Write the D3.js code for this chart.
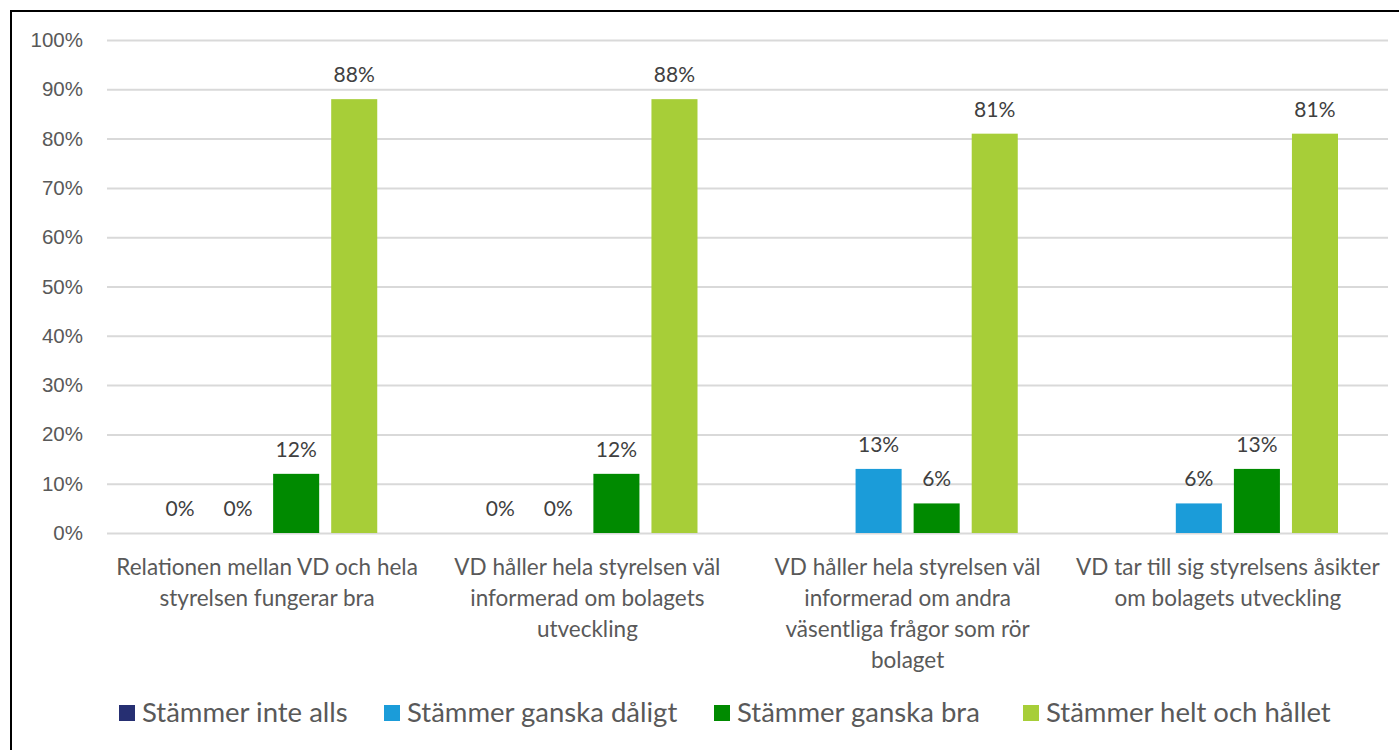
<!DOCTYPE html>
<html>
<head>
<meta charset="utf-8">
<script src="https://cdn.jsdelivr.net/npm/d3@7"></script>
<style>
  body { margin: 0; background: #fff; }
  svg { display: block; font-family: "Source Sans Pro", Lato, "Open Sans", sans-serif; }
</style>
</head>
<body>
<div id="chart"></div>
<script>
// Data.
const categories = [
  ['Relationen mellan VD och hela', 'styrelsen fungerar bra'],
  ['VD håller hela styrelsen väl', 'informerad om bolagets', 'utveckling'],
  ['VD håller hela styrelsen väl', 'informerad om andra', 'väsentliga frågor som rör', 'bolaget'],
  ['VD tar till sig styrelsens åsikter', 'om bolagets utveckling'],
];
const seriesNames = ['Stämmer inte alls', 'Stämmer ganska dåligt', 'Stämmer ganska bra', 'Stämmer helt och hållet'];
const inteAlls = [0, 0, 0, 0];
const ganskaDaligt = [0, 0, 13, 6];
const ganskaBra = [12, 12, 6, 13];
const heltOchHallet = [88, 88, 81, 81];
const yTicks = [0, 10, 20, 30, 40, 50, 60, 70, 80, 90, 100];
const colors = ['#262f72', '#1b9cd9', '#008a00', '#a7ce38'];

const seriesValues = [inteAlls, ganskaDaligt, ganskaBra, heltOchHallet];
// the original only prints one "0%" in the last two groups
const showLabel = [
  [true, true, true, true],
  [true, true, true, true],
  [false, true, true, true],
  [false, true, true, true],
];

const width = 1399, height = 750;
const margin = {top: 40, right: 11, bottom: 217, left: 107};

const svg = d3.select('#chart').append('svg')
  .attr('width', width)
  .attr('height', height);

// Outer frame
svg.append('rect')
  .attr('x', 11).attr('y', 11)
  .attr('width', width + 10).attr('height', height + 10)
  .attr('fill', 'none')
  .attr('stroke', '#000')
  .attr('stroke-width', 2);

const x0 = d3.scaleBand()
  .domain(d3.range(categories.length))
  .range([margin.left, width - margin.right]);

const x1 = d3.scaleBand()
  .domain(d3.range(seriesNames.length))
  .range([44, x0.bandwidth() - 44])
  .paddingInner(12 / 58)
  .paddingOuter(6 / 58);

const y = d3.scaleLinear()
  .domain([0, 100])
  .range([height - margin.bottom, margin.top]);

// Grid + y labels
const yAxis = svg.append('g')
  .attr('transform', `translate(${margin.left},0)`)
  .call(d3.axisLeft(y)
    .tickValues(yTicks)
    .tickSize(-(width - margin.right - margin.left))
    .tickFormat(d => d + '%')
    .tickPadding(24));
yAxis.select('.domain').remove();
yAxis.selectAll('.tick line').attr('stroke', '#d9d9d9').attr('stroke-width', 2);
yAxis.selectAll('.tick text')
  .attr('fill', '#595959')
  .style('font-size', '20.5px')
  .style('font-family', 'inherit');

// Bars
const groups = svg.append('g').selectAll('g')
  .data(categories)
  .join('g')
  .attr('transform', (d, i) => `translate(${x0(i)},0)`);

groups.each(function(cat, ci) {
  const g = d3.select(this);
  seriesValues.forEach((vals, si) => {
    const v = vals[ci];
    if (v > 0) {
      g.append('rect')
        .attr('x', x1(si))
        .attr('y', y(v))
        .attr('width', x1.bandwidth())
        .attr('height', y(0) - y(v))
        .attr('fill', colors[si]);
    }
    if (showLabel[ci][si]) {
      g.append('text')
        .attr('x', x1(si) + x1.bandwidth() / 2)
        .attr('y', y(v) - 17)
        .attr('text-anchor', 'middle')
        .attr('fill', '#404040')
        .style('font-size', '21px')
        .text(v + '%');
    }
  });

  // Category label
  const t = g.append('text')
    .attr('x', x0.bandwidth() / 2)
    .attr('y', y(0) + 42)
    .attr('text-anchor', 'middle')
    .attr('fill', '#595959')
    .style('font-size', '22.5px');
  cat.forEach((line, li) => {
    t.append('tspan')
      .attr('x', x0.bandwidth() / 2)
      .attr('dy', li === 0 ? 0 : 31)
      .text(line);
  });
});

// Legend
const legendX = [119, 384, 714, 1023];
const legend = svg.append('g').selectAll('g')
  .data(seriesNames)
  .join('g')
  .attr('transform', (d, i) => `translate(${legendX[i]},705)`);
legend.append('rect')
  .attr('width', 16).attr('height', 16)
  .attr('fill', (d, i) => colors[i]);
legend.append('text')
  .attr('x', 23)
  .attr('y', 17)
  .attr('fill', '#595959')
  .style('font-size', '27.5px')
  .text(d => d);
</script>
</body>
</html>
